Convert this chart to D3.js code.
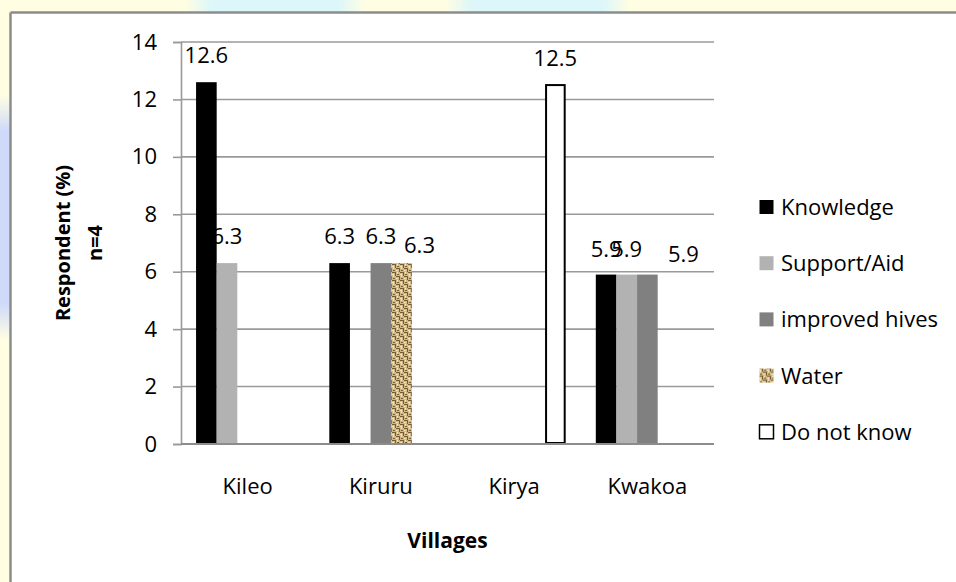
<!DOCTYPE html>
<html>
<head>
<meta charset="utf-8">
<script src="https://cdn.jsdelivr.net/npm/d3@7"></script>
<style>
  html, body { margin: 0; padding: 0; background: #ffffff; overflow: hidden; }
  svg { display: block; }
  text { font-family: "Open Sans", "Noto Sans", sans-serif; fill: #000; }
</style>
</head>
<body>
<svg id="chart" width="956" height="582"></svg>
<script>
// Villages surveyed and the reasons respondents gave
const villages = ["Kileo", "Kiruru", "Kirya", "Kwakoa"];
const seriesNames = ["Knowledge", "Support/Aid", "improved hives", "Water", "Do not know"];

// Respondent share (%) per village, one array per series (null = no bar)
const knowledge     = [12.6, 6.3, null, 5.9];
const supportAid    = [6.3, null, null, 5.9];
const improvedHives = [null, 6.3, null, 5.9];
const water         = [null, 6.3, null, null];
const doNotKnow     = [null, null, 12.5, null];

const yTicks = [0, 2, 4, 6, 8, 10, 12, 14];

// Hand nudges (px) for data labels that were moved to avoid overlap
const labelNudge = [
  { village: "Kiruru", series: "Water", dx: 18, dy: 9 },
  { village: "Kwakoa", series: "Knowledge", dx: 0, dy: 1 },
  { village: "Kwakoa", series: "Support/Aid", dx: 0, dy: 1 },
  { village: "Kwakoa", series: "improved hives", dx: 36, dy: 6 }
];

const seriesValues = [knowledge, supportAid, improvedHives, water, doNotKnow];

const svg = d3.select("#chart");
const W = 956, H = 582;
const defs = svg.append("defs");

// ---- pale backdrop strips along the top and left edges ----
svg.append("rect").attr("x", 0).attr("y", 0).attr("width", W).attr("height", 14).attr("fill", "#fffee3");
svg.append("rect").attr("x", 0).attr("y", 0).attr("width", 12).attr("height", H).attr("fill", "#fffee3");

// soft cyan / blue tints, faded at their ends with gradients
function fadeGradient(id, color, vertical) {
  const g = defs.append("linearGradient").attr("id", id)
    .attr("x1", 0).attr("y1", 0).attr("x2", vertical ? 0 : 1).attr("y2", vertical ? 1 : 0);
  g.append("stop").attr("offset", "0%").attr("stop-color", color).attr("stop-opacity", 0);
  g.append("stop").attr("offset", "15%").attr("stop-color", color).attr("stop-opacity", 1);
  g.append("stop").attr("offset", "85%").attr("stop-color", color).attr("stop-opacity", 1);
  g.append("stop").attr("offset", "100%").attr("stop-color", color).attr("stop-opacity", 0);
}
fadeGradient("tintA", "#dcf6fa", false);
fadeGradient("tintB", "#cfd9fa", true);
svg.append("rect").attr("x", 185).attr("y", 0).attr("width", 180).attr("height", 12).attr("fill", "url(#tintA)");
svg.append("rect").attr("x", 445).attr("y", 0).attr("width", 185).attr("height", 12).attr("fill", "url(#tintA)");
svg.append("rect").attr("x", 0).attr("y", 95).attr("width", 10).attr("height", 245).attr("fill", "url(#tintB)");

// ---- burlap texture for the Water series ----
const burlap = defs.append("pattern").attr("id", "burlap")
  .attr("patternUnits", "userSpaceOnUse").attr("width", 8).attr("height", 8);
burlap.append("rect").attr("width", 8).attr("height", 8).attr("fill", "#d3b983");
[[0, 0, 4, 1], [4, 4, 4, 1], [3, 1, 1, 3], [7, 5, 1, 3], [1, 6, 2, 1], [5, 2, 2, 1]].forEach(d => {
  burlap.append("rect").attr("x", d[0]).attr("y", d[1]).attr("width", d[2]).attr("height", d[3])
    .attr("fill", "#5f4826").attr("opacity", 0.8);
});
[[0, 2, 2, 1], [4, 6, 2, 1], [1, 3, 1, 2], [5, 0, 1, 2]].forEach(d => {
  burlap.append("rect").attr("x", d[0]).attr("y", d[1]).attr("width", d[2]).attr("height", d[3])
    .attr("fill", "#f2e2b8");
});

const fills = {
  "Knowledge": "#000000",
  "Support/Aid": "#b2b2b2",
  "improved hives": "#808080",
  "Water": "url(#burlap)",
  "Do not know": "#ffffff"
};

// ---- chart frame: white panel with grey top and left edges ----
svg.append("rect").attr("x", 11).attr("y", 13).attr("width", W - 11).attr("height", H - 13).attr("fill", "#ffffff");
svg.append("line").attr("x1", 10.5).attr("x2", W).attr("y1", 12.5).attr("y2", 12.5)
  .attr("stroke", "#8c8c8c").attr("stroke-width", 2.5);
svg.append("line").attr("x1", 10.5).attr("x2", 10.5).attr("y1", 12.5).attr("y2", H)
  .attr("stroke", "#8c8c8c").attr("stroke-width", 2.5);

// ---- plot area ----
const plot = { left: 181, right: 714, top: 42, bottom: 444 };

const x0 = d3.scaleBand().domain(villages).range([plot.left, plot.right]).paddingInner(0).paddingOuter(0);
const x1 = d3.scaleBand().domain(seriesNames).range([0, x0.bandwidth()]).paddingInner(0).paddingOuter(0.73);
const y = d3.scaleLinear().domain([0, 14]).range([plot.bottom, plot.top]);

// gridlines
svg.append("g").selectAll("line").data(yTicks.filter(t => t > 0)).join("line")
  .attr("x1", plot.left).attr("x2", plot.right)
  .attr("y1", d => y(d)).attr("y2", d => y(d))
  .attr("stroke", "#9a9a9a").attr("stroke-width", 1.6);

// y axis
const yAxis = svg.append("g").attr("transform", `translate(${plot.left},0)`)
  .call(d3.axisLeft(y).tickValues(yTicks).tickSize(8).tickPadding(16).tickFormat(d3.format("d")));
yAxis.select(".domain").attr("stroke", "#9a9a9a").attr("stroke-width", 1.6);
yAxis.selectAll(".tick line").attr("stroke", "#9a9a9a").attr("stroke-width", 1.6);
yAxis.selectAll(".tick text").attr("font-size", 22).attr("font-family", "Open Sans").attr("fill", "#000");

// rows of bars
const rows = [];
villages.forEach((v, vi) => {
  seriesNames.forEach((s, si) => {
    const val = seriesValues[si][vi];
    if (val != null) rows.push({ village: v, series: s, value: val });
  });
});

// data labels (drawn under the bars, so neighbours may cover them)
const labels = svg.append("g");
labels.selectAll("text").data(rows).join("text")
  .attr("x", d => {
    const n = labelNudge.find(k => k.village === d.village && k.series === d.series);
    return x0(d.village) + x1(d.series) + x1.bandwidth() / 2 + (n ? n.dx : 0);
  })
  .attr("y", d => {
    const n = labelNudge.find(k => k.village === d.village && k.series === d.series);
    return y(d.value) - 19 + (n ? n.dy : 0);
  })
  .attr("text-anchor", "middle").attr("font-size", 22)
  .text(d => d3.format(".1f")(d.value));

const bars = svg.append("g");
bars.selectAll("rect").data(rows).join("rect")
  .attr("x", d => x0(d.village) + x1(d.series))
  .attr("y", d => y(d.value))
  .attr("width", x1.bandwidth())
  .attr("height", d => y(0) - y(d.value))
  .attr("fill", d => fills[d.series])
  .attr("stroke", d => d.series === "Do not know" ? "#000" : "none")
  .attr("stroke-width", 2);
// keep the outlined bar inside its slot
bars.selectAll("rect").filter(d => d.series === "Do not know")
  .attr("x", d => x0(d.village) + x1(d.series) + 1)
  .attr("width", x1.bandwidth() - 2)
  .attr("height", d => y(0) - y(d.value) - 1);

// x axis baseline and category labels
svg.append("line").attr("x1", plot.left).attr("x2", plot.right)
  .attr("y1", plot.bottom).attr("y2", plot.bottom)
  .attr("stroke", "#8c8c8c").attr("stroke-width", 2);
const xAxis = svg.append("g").attr("transform", `translate(0,${plot.bottom})`)
  .call(d3.axisBottom(x0).tickSize(0).tickPadding(34));
xAxis.select(".domain").remove();
xAxis.selectAll(".tick text").attr("font-size", 22).attr("font-family", "Open Sans").attr("fill", "#000");

// axis titles
svg.append("text").attr("x", (plot.left + plot.right) / 2).attr("y", 548)
  .attr("text-anchor", "middle").attr("font-size", 21).attr("font-weight", "bold").text("Villages");
const yTitle = svg.append("text").attr("transform", `translate(70,243) rotate(-90)`)
  .attr("text-anchor", "middle").attr("font-size", 20).attr("font-weight", "bold");
yTitle.append("tspan").attr("x", 0).attr("dy", 0).text("Respondent (%)");
yTitle.append("tspan").attr("x", 0).attr("dy", 32).text("n=4");

// legend
const legend = svg.append("g").attr("transform", "translate(759,207)");
const items = legend.selectAll("g").data(seriesNames).join("g")
  .attr("transform", (d, i) => `translate(0,${i * 56.2})`);
items.append("rect").attr("x", 0.5).attr("y", -7).attr("width", 14).attr("height", 14)
  .attr("fill", d => fills[d])
  .attr("stroke", d => d === "Do not know" ? "#000" : "none").attr("stroke-width", 1.5);
items.append("text").attr("x", 22).attr("y", 8).attr("font-size", 22).text(d => d);
</script>
</body>
</html>
